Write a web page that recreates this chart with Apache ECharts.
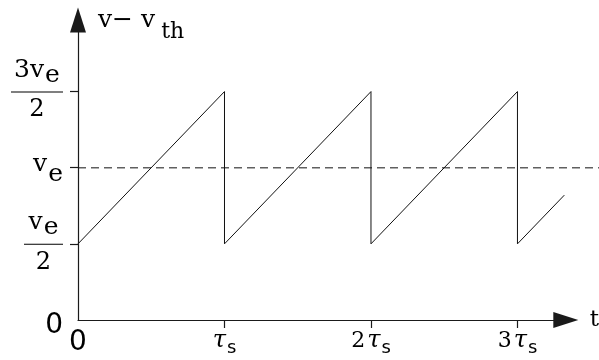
<!DOCTYPE html>
<html>
<head>
<meta charset="utf-8">
<script src="https://cdn.jsdelivr.net/npm/echarts@6/dist/echarts.min.js"></script>
<style>
  html, body { margin: 0; padding: 0; background: #fff; }
  #chart { width: 599px; height: 360px; }
</style>
</head>
<body>
<div id="chart"></div>
<script>
// Potential above threshold: linear ramp, reset every tau_s
const times = [0, 1, 1, 2, 2, 3, 3, 3.32];                 // units of tau_s
const potential = [0.5, 1.5, 0.5, 1.5, 0.5, 1.5, 0.5, 0.82]; // units of v_e
const refLevel = 1;                 // v_e
const xTickValues = [1, 2, 3];
const xLabelValues = [0, 1, 2, 3];
const xTickLabels = ['0', 'τ_s', '2τ_s', '3τ_s'];
const yTickValues = [0.5, 1, 1.5];
const yLabelValues = [0, 0.5, 1, 1.5];
const yTickLabels = ['0', 'v_e/2', 'v_e', '3v_e/2'];
const xName = 't';
const yName = ['v− v', 'th'];

const X_MAX = 3.33;
const Y_MAX = 1.97;
const LEFT = 78, RIGHT = 33.2, TOP = 20, BOTTOM = 40, WIDTH = 599;
// wider overlay grid with the same time scale, so the reference line runs to the edge
const X_MAX_WIDE = X_MAX * (WIDTH - LEFT) / (WIDTH - LEFT - RIGHT);

const AXIS = '#1a1a1a';
const SERIF = 'DejaVu Serif';
const SANS = 'DejaVu Sans';

// "2τ_s" -> rich markup with italic tau and a lowered subscript
function xRich(s) {
  if (s === '0') return '{zero|0}';
  const [pre, sub] = s.split('_');
  const coef = pre.slice(0, -1);
  return (coef ? '{n|' + coef + '}' : '') + '{tau|τ}{s|' + sub + '}';
}
// "3v_e/2" -> stacked fraction: numerator, bar, denominator
function yRich(s) {
  if (s === '0') return '{zero|0}';
  const [top, den] = s.split('/');
  const [base, sub] = top.split('_');
  if (!den) return '{v|' + base + '}{e|' + sub + '}';
  const bar = base.length > 1 ? 'barW' : 'barN';
  return '{fv|' + base + '}{fe|' + sub + '}\n{' + bar + '| }\n{den|' + den + '}';
}

const chart = echarts.init(document.getElementById('chart'), null, { renderer: 'canvas' });

chart.setOption({
  animation: false,
  backgroundColor: '#fff',
  grid: [
    { left: LEFT, right: RIGHT, top: TOP, bottom: BOTTOM, containLabel: false, outerBoundsMode: 'none' },
    { left: LEFT, right: 0, top: TOP, bottom: BOTTOM, containLabel: false, outerBoundsMode: 'none' }
  ],
  xAxis: [{
    type: 'value',
    gridIndex: 0,
    min: 0,
    max: X_MAX,
    name: xName,
    nameLocation: 'end',
    nameGap: 24,
    nameTextStyle: { fontFamily: SERIF, fontSize: 23, color: '#000', align: 'left', verticalAlign: 'middle' },
    axisLine: {
      show: true,
      symbol: ['none', 'triangle'],
      symbolSize: [16, 25],
      lineStyle: { color: AXIS, width: 1.2 }
    },
    axisTick: { show: true, customValues: xTickValues, length: 8, inside: false, lineStyle: { color: AXIS, width: 1.2 } },
    axisLabel: {
      customValues: xLabelValues,
      margin: 5,
      color: '#000',
      formatter: v => xRich(xTickLabels[xLabelValues.indexOf(v)]),
      rich: {
        zero: { fontFamily: SANS, fontSize: 28, color: '#000', padding: [4, 0, 0, 0] },
        n: { fontFamily: SERIF, fontSize: 22, color: '#000', padding: [0, 2, 0, 0] },
        tau: { fontFamily: SERIF, fontStyle: 'italic', fontSize: 24, color: '#000' },
        s: { fontFamily: SANS, fontSize: 18, color: '#000', padding: [14, 0, 0, 1] }
      }
    },
    splitLine: { show: false },
    z: 3
  }, {
    type: 'value',
    gridIndex: 1,
    min: 0,
    max: X_MAX_WIDE,
    show: false
  }],
  yAxis: [{
    type: 'value',
    gridIndex: 0,
    min: 0,
    max: Y_MAX,
    name: '{nv|' + yName[0] + '}{nth|' + yName[1] + '}',
    nameLocation: 'end',
    nameGap: -6,
    nameTextStyle: {
      align: 'left',
      verticalAlign: 'middle',
      padding: [0, 0, 0, 20],
      rich: {
        nv: { fontFamily: SERIF, fontSize: 25, color: '#000', padding: [0, 0, 12, 0] },
        nth: { fontFamily: SERIF, fontSize: 22, color: '#000', padding: [12, 0, 0, 6] }
      }
    },
    axisLine: {
      show: true,
      symbol: ['none', 'triangle'],
      symbolSize: [16, 25],
      lineStyle: { color: AXIS, width: 1.2 }
    },
    axisTick: { show: true, customValues: yTickValues, length: 8, inside: false, lineStyle: { color: AXIS, width: 1.2 } },
    axisLabel: {
      customValues: yLabelValues,
      margin: 15,
      color: '#000',
      formatter: v => yRich(yTickLabels[yLabelValues.indexOf(v)]),
      rich: {
        zero: { fontFamily: SANS, fontSize: 28, color: '#000', padding: [12, 0, 0, 0] },
        v: { fontFamily: SERIF, fontSize: 25, color: '#000', padding: [0, 0, 6, 0] },
        e: { fontFamily: SERIF, fontSize: 25, color: '#000', padding: [14, 0, 0, 1] },
        fv: { fontFamily: SERIF, fontSize: 25, color: '#000', align: 'center', padding: [0, 0, 5, 0] },
        fe: { fontFamily: SERIF, fontSize: 25, color: '#000', align: 'center', padding: [5, 0, 0, 1] },
        barW: { width: 52, height: 1, backgroundColor: '#000', align: 'center', fontSize: 2, lineHeight: 8 },
        barN: { width: 39, height: 1, backgroundColor: '#000', align: 'center', fontSize: 2, lineHeight: 8 },
        den: { fontFamily: SERIF, fontSize: 24, color: '#000', align: 'center', padding: [2, 0, 3, 0] }
      }
    },
    splitLine: { show: false },
    z: 3
  }, {
    type: 'value',
    gridIndex: 1,
    min: 0,
    max: Y_MAX,
    show: false
  }],
  series: [
    {
      type: 'line',
      xAxisIndex: 1,
      yAxisIndex: 1,
      data: [[0, refLevel], [X_MAX_WIDE, refLevel]],
      symbol: 'none',
      silent: true,
      z: 1,
      lineStyle: { color: '#606060', width: 1.5, type: [8, 5] }
    },
    {
      type: 'line',
      xAxisIndex: 0,
      yAxisIndex: 0,
      data: times.map((t, i) => [t, potential[i]]),
      symbol: 'none',
      silent: true,
      z: 2,
      lineStyle: { color: '#111', width: 1 }
    }
  ]
});
</script>
</body>
</html>
